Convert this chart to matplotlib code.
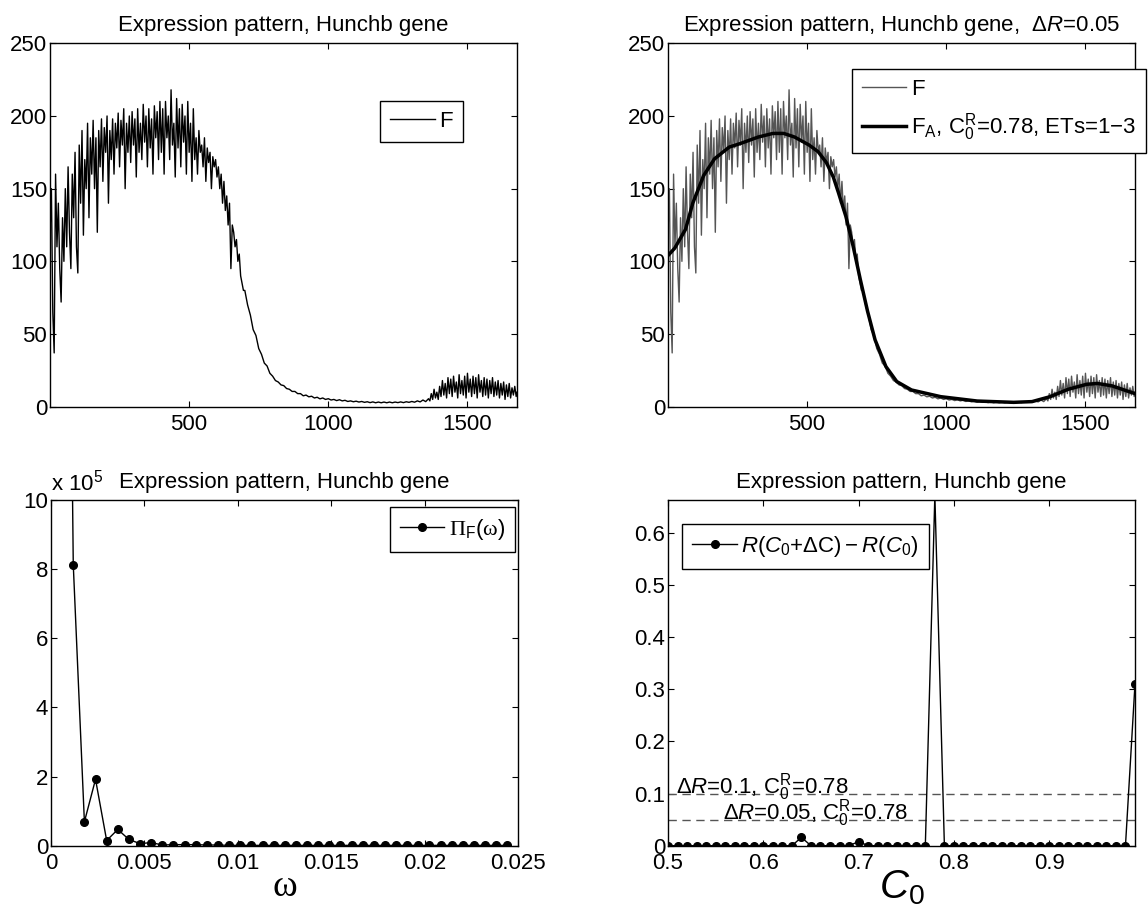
import matplotlib
matplotlib.use("Agg")
import matplotlib.pyplot as plt
import numpy as np

plt.rcParams['font.family'] = ['Liberation Sans', 'DejaVu Sans']
plt.rcParams['mathtext.fontset'] = 'custom'
plt.rcParams['mathtext.rm'] = 'Liberation Sans'
plt.rcParams['mathtext.it'] = 'Liberation Sans:italic'
plt.rcParams['mathtext.sf'] = 'Liberation Serif'

# expression profile F (denser sampling where the signal is noisy)
F_x = np.concatenate([np.arange(1, 700, 5), np.arange(701, 1362, 10),
                      np.arange(1366, 1677, 5), [1679]])
F = [120, 150, 65, 37, 160, 110, 140, 95, 72, 130,
     100, 150, 110, 165, 120, 95, 160, 130, 175, 110,
     92, 180, 140, 190, 118, 170, 150, 195, 130, 185,
     160, 197, 150, 185, 120, 190, 165, 198, 155, 192,
     175, 200, 140, 190, 170, 198, 160, 195, 178, 202,
     165, 197, 180, 205, 150, 195, 175, 200, 168, 203,
     180, 198, 158, 205, 175, 195, 170, 208, 182, 200,
     165, 205, 178, 198, 160, 207, 185, 203, 170, 210,
     175, 205, 160, 210, 185, 200, 170, 218, 180, 195,
     158, 212, 178, 205, 165, 208, 182, 200, 160, 210,
     175, 195, 155, 205, 170, 185, 160, 190, 175, 180,
     165, 185, 155, 178, 168, 175, 150, 172, 165, 170,
     158, 165, 150, 160, 140, 155, 135, 145, 125, 140,
     95, 125, 120, 110, 115, 100, 105, 90, 85, 80,
     # step 10 from 701
     80, 70, 63, 53, 49, 40, 36, 30, 28, 23,
     21, 18, 17, 15, 14.5, 12.5, 12, 10.5, 10.5, 9,
     9, 7.5, 8, 6.8, 7.2, 6, 6.5, 5.4, 6, 5,
     5.5, 4.6, 5, 4.2, 4.8, 4, 4.4, 3.6, 4, 3.4,
     3.8, 3.2, 3.6, 3, 3.4, 2.8, 3.3, 2.7, 3.2, 2.7,
     3.2, 2.7, 3.2, 2.7, 3.2, 2.8, 3.3, 2.8, 3.4, 3,
     3.6, 3.1, 4, 3.3, 4.6, 3.5, 5.5,
     # step 5 from 1366
     4, 9, 5, 12, 6, 10, 5, 14, 7, 18,
     8, 16, 6, 20, 9, 19, 7, 21, 10, 17,
     6, 22, 9, 18, 8, 21, 6, 23, 10, 19,
     7, 21, 9, 20, 6, 22, 10, 18, 7, 20,
     8, 19, 6, 18, 9, 20, 7, 17, 8, 18,
     6, 16, 8, 17, 5, 15, 7, 16, 6, 13,
     8, 14, 7,
     10]

# approximation F_A
FA_x = [1, 25, 64, 90, 129, 168, 221, 260, 325, 378, 417, 456, 508, 540, 570, 595, 613,
        640, 666, 692, 718, 745, 784, 823, 876, 981, 1112, 1243, 1309, 1374,
        1439, 1505, 1544, 1597, 1679]
FA = [104, 109, 122, 140, 159, 170.5, 178.6, 181, 185.5, 188, 188, 185.5, 180, 175.5, 168, 158, 147.5,
      131, 110.6, 87.5, 65.7, 46, 27.6, 17.3, 11.5, 6.9, 3.9, 3, 3.5, 6.9,
      12, 15.4, 16, 14.3, 9]

# power spectrum, omega = k/1678, values in units of 1e5
omega = np.arange(1, 42) / 1678
power = [38, 8.13, 0.69, 1.92, 0.15, 0.47, 0.18, 0.06, 0.09, 0.02,
         0.03, 0.03, 0.03, 0.02, 0.02, 0.01, 0.01, 0.01, 0.01, 0.01,
         0.01, 0.01, 0.01, 0.01, 0.01, 0.01, 0.01, 0.01, 0.01, 0.01,
         0.01, 0.01, 0.01, 0.01, 0.01, 0.01, 0.01, 0.01, 0.01, 0.01, 0.01]

# R(C0+dC)-R(C0)
C0 = np.round(np.arange(0.50, 0.995, 0.01), 2)
dR = [0, 0, 0, 0, 0, 0, 0, 0, 0, 0,
      0, 0, 0, 0, 0.016, 0, 0, 0, 0, 0,
      0.008, 0, 0, 0, 0, 0, 0, 0, 0.672, 0,
      0, 0, 0, 0, 0, 0, 0, 0, 0, 0,
      0, 0, 0, 0, 0, 0, 0, 0, 0, 0.31]

TS = 16
fig = plt.figure(figsize=(11.48, 9.10), dpi=100)
W = 467 / 1148
ax1 = fig.add_axes([50 / 1148, 1 - 406.7 / 910, W, 363.4 / 910])
ax2 = fig.add_axes([668 / 1148, 1 - 406.7 / 910, W, 363.4 / 910])
ax3 = fig.add_axes([51 / 1148, 1 - 845.7 / 910, W, 345.7 / 910])
ax4 = fig.add_axes([668 / 1148, 1 - 845.7 / 910, W, 345.7 / 910])

for ax in (ax1, ax2, ax3, ax4):
    ax.tick_params(direction='in', top=True, right=True, length=4, width=0.8, labelsize=TS)
    ax.tick_params(axis='x', pad=5)
    ax.tick_params(axis='y', pad=2)
    for s in ax.spines.values():
        s.set_linewidth(1.0)

leg_kw = dict(fontsize=TS, fancybox=False, framealpha=1, edgecolor='black',
              borderaxespad=0, handlelength=2.0, handletextpad=0.2, borderpad=0.45)

ax1.plot(F_x, F, color='black', lw=1, label='F')
ax1.set_xlim(1, 1679)
ax1.set_ylim(0, 250)
ax1.set_xticks([500, 1000, 1500])
ax1.set_yticks([0, 50, 100, 150, 200, 250])
ax1.set_title('Expression pattern, Hunchb gene', fontsize=TS, pad=9)
l = ax1.legend(loc='upper right', bbox_to_anchor=(0.884, 0.842), **leg_kw)
l.get_frame().set_linewidth(1.0)

ax2.plot(F_x, F, color='#555555', lw=1, label='F')
ax2.plot(FA_x, FA, color='black', lw=2.5,
         label=r'F$_\mathrm{A}$, C$_\mathrm{0}^\mathrm{R}$=0.78, ETs=1$-$3')
ax2.set_xlim(1, 1679)
ax2.set_ylim(0, 250)
ax2.set_xticks([500, 1000, 1500])
ax2.set_yticks([0, 50, 100, 150, 200, 250])
ax2.set_title(r'Expression pattern, Hunchb gene,  $\Delta\mathit{R}$=0.05', fontsize=TS, pad=9)
l = ax2.legend(loc='upper left', bbox_to_anchor=(0.394, 0.929), **leg_kw)
l.get_frame().set_linewidth(1.0)

ax3.plot(omega, power, color='black', lw=1, marker='o', ms=5.5, label=r'$\mathsf{\Pi}_\mathrm{F}(\mathsf{\omega})$')
ax3.set_xlim(0, 0.025)
ax3.set_ylim(0, 10)
ax3.set_xticks([0, 0.005, 0.01, 0.015, 0.02, 0.025])
ax3.set_xticklabels(['0', '0.005', '0.01', '0.015', '0.02', '0.025'])
ax3.set_yticks([0, 2, 4, 6, 8, 10])
ax3.set_title('Expression pattern, Hunchb gene', fontsize=TS, pad=9)
ax3.text(0.0, 1.012, r'x 10$^\mathrm{5}$', transform=ax3.transAxes, fontsize=TS, ha='left', va='bottom')
ax3.set_xlabel('ω', fontsize=27, family='Liberation Serif')
ax3.xaxis.set_label_coords(0.5, -0.07)
l = ax3.legend(loc='upper right', bbox_to_anchor=(0.9935, 0.981), **leg_kw)
l.get_frame().set_linewidth(1.0)

ax4.axhline(0.1, color='#555555', lw=1, ls=(0, (6, 4)))
ax4.axhline(0.05, color='#555555', lw=1, ls=(0, (6, 4)))
ax4.plot(C0, dR, color='black', lw=1, marker='o', ms=5.5, label=r'$R(C_0$+$\Delta$C$)-R(C_0)$')
ax4.text(0.508, 0.1, r'$\Delta\mathit{R}$=0.1, C$_\mathrm{0}^\mathrm{R}$=0.78', fontsize=TS, va='baseline')
ax4.text(0.558, 0.05, r'$\Delta\mathit{R}$=0.05, C$_\mathrm{0}^\mathrm{R}$=0.78', fontsize=TS, va='baseline')
ax4.set_xlim(0.5, 0.99)
ax4.set_ylim(0, 0.6627)
ax4.set_xticks([0.5, 0.6, 0.7, 0.8, 0.9])
ax4.set_xticklabels(['0.5', '0.6', '0.7', '0.8', '0.9'])
ax4.set_yticks([0, 0.1, 0.2, 0.3, 0.4, 0.5, 0.6])
ax4.set_yticklabels(['0', '0.1', '0.2', '0.3', '0.4', '0.5', '0.6'])
ax4.set_title('Expression pattern, Hunchb gene', fontsize=TS, pad=9)
ax4.set_xlabel(r'$C_0$', fontsize=29)
ax4.xaxis.set_label_coords(0.5, -0.065)
l = ax4.legend(loc='upper left', bbox_to_anchor=(0.031, 0.930), **leg_kw)
l.get_frame().set_linewidth(1.0)

fig.savefig('out.png', dpi=100)
